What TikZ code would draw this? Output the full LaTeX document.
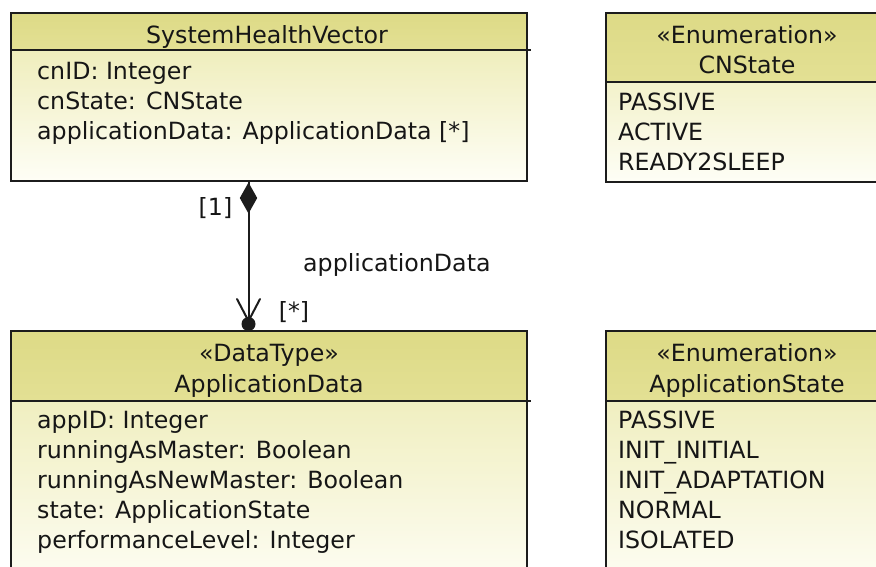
\documentclass[tikz,border=0pt]{standalone}
\usepackage{fontspec}
\setmainfont{DejaVu Sans}
\usetikzlibrary{arrows.meta,calc}

\definecolor{headA}{RGB}{221,218,134}
\definecolor{headB}{RGB}{227,224,148}
\definecolor{bodyA}{RGB}{235,233,172}
\definecolor{bodyB}{RGB}{254,254,246}
\definecolor{ink}{RGB}{22,22,22}
\definecolor{edge}{RGB}{28,28,28}

\tikzset{
  classbody/.style={inner sep=0pt, outer sep=0pt, top color=bodyA, bottom color=bodyB},
  headfill/.style={top color=headA, bottom color=headB},
  border/.style={draw=edge, line width=2pt},
  sepline/.style={draw=edge, line width=2pt},
  member/.style={anchor=base west, inner sep=0pt, text=ink},
  title/.style={anchor=base, inner sep=0pt, text=ink},
  lbl/.style={inner sep=0pt, text=ink},
  link/.style={draw=edge, line width=2pt},
}

\begin{document}
\begin{tikzpicture}[x=1pt,y=-1pt,font=\fontsize{23.7}{30}\selectfont]
\clip (0,0) rectangle (876,566);
\fill[white] (0,0) rectangle (876,566);

% ---------- SystemHealthVector ----------
\node[classbody, minimum width=516pt, minimum height=168.5pt] (shv) at (269,96.75) {};
\shade[headfill] (shv.north west) rectangle ($(shv.north east)+(0,-37.5pt)$);
\draw[sepline] ($(shv.north west)+(0,-37.5pt)$) -- ++(519.5pt,0);
\draw[border] (shv.north west) rectangle (shv.south east);
\node[title] (shvT) at (267,43) {SystemHealthVector};
\node[member] (shv1) at (37,79) {cnID: Integer};
\node[member] (shv2) at (37,109) {cnState: CNState};
\node[member] (shv3) at (37,139) {applicationData: ApplicationData [*]};

% ---------- CNState ----------
\node[classbody, minimum width=284pt, minimum height=169.5pt] (cns) at (748,97.25) {};
\shade[headfill] (cns.north west) rectangle ($(cns.north east)+(0,-69pt)$);
\draw[sepline] ($(cns.north west)+(0,-69pt)$) -- ++(290pt,0);
\draw[border] (cns.north west) rectangle (cns.south east);
\node[title] (cnsS) at (747,43) {«Enumeration»};
\node[title] (cnsT) at (747,73) {CNState};
\node[member] (cns1) at (618,110) {PASSIVE};
\node[member] (cns2) at (618,140) {ACTIVE};
\node[member] (cns3) at (618,170) {READY2SLEEP};

% ---------- ApplicationData ----------
\node[classbody, minimum width=516pt, minimum height=261.5pt] (ad) at (269,461.25) {};
\shade[headfill] (ad.north west) rectangle ($(ad.north east)+(0,-70pt)$);
\draw[sepline] ($(ad.north west)+(0,-70pt)$) -- ++(519.5pt,0);
\draw[border] (ad.north west) rectangle (ad.south east);
\node[title] (adS) at (269,361) {«DataType»};
\node[title] (adT) at (269,392) {ApplicationData};
\node[member] (ad1) at (37,428) {appID: Integer};
\node[member] (ad2) at (37,458) {runningAsMaster: Boolean};
\node[member] (ad3) at (37,488) {runningAsNewMaster: Boolean};
\node[member] (ad4) at (37,518) {state: ApplicationState};
\node[member] (ad5) at (37,548) {performanceLevel: Integer};

% ---------- ApplicationState ----------
\node[classbody, minimum width=284pt, minimum height=261.5pt] (as) at (748,461.25) {};
\shade[headfill] (as.north west) rectangle ($(as.north east)+(0,-70pt)$);
\draw[sepline] ($(as.north west)+(0,-70pt)$) -- ++(290pt,0);
\draw[border] (as.north west) rectangle (as.south east);
\node[title] (asS) at (747,361) {«Enumeration»};
\node[title] (asT) at (747,392) {ApplicationState};
\node[member] (as1) at (618,428) {PASSIVE};
\node[member] (as2) at (618,458) {INIT\_INITIAL};
\node[member] (as3) at (618,488) {INIT\_ADAPTATION};
\node[member] (as4) at (618,518) {NORMAL};
\node[member] (as5) at (618,548) {ISOLATED};

% ---------- composition shv -> ad ----------
\path (shv.south west) ++(237.5,0) coordinate (aggTop);
\path (ad.north west) ++(237.5,-6.5) coordinate (aggEnd);
\draw[link] (aggTop) -- (aggEnd);
% filled diamond at the owning end
\fill[edge] (aggTop) ++(0,1.5) -- ++(8.7,15.5) -- ++(-8.7,15.5) -- ++(-8.7,-15.5) -- cycle;
% open arrow head at the navigable end
\draw[link, line cap=round, line join=round]
  ($(aggEnd)+(-11.5,-25)$) -- ($(aggEnd)+(0,-3)$) -- ($(aggEnd)+(11.5,-25)$);
% ownership dot
\fill[edge] (aggEnd) circle (7pt);

\node[lbl] (mult1) at (215.5,208.5) {[1]};
\node[lbl] (multN) at (294,312) {[*]};
\node[lbl, anchor=west] (role) at (303,265) {applicationData};
\end{tikzpicture}
\end{document}
